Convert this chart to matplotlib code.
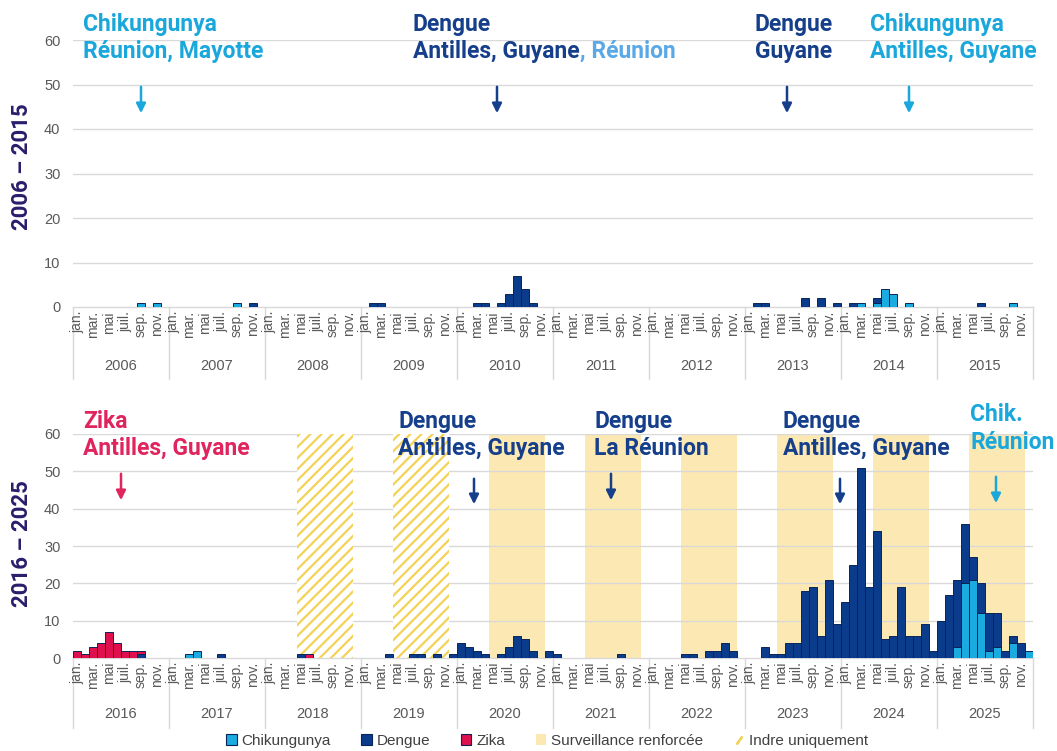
import matplotlib
matplotlib.use("Agg")
import matplotlib.pyplot as plt
import numpy as np
from matplotlib.patches import Patch
from matplotlib.lines import Line2D
from matplotlib.transforms import blended_transform_factory

plt.rcParams['hatch.linewidth'] = 1.6

W, H = 1057, 751
fig = plt.figure(figsize=(W / 100, H / 100), dpi=100)

# ---------------- data ----------------
years_top = [str(y) for y in range(2006, 2016)]
years_bottom = [str(y) for y in range(2016, 2026)]
month_labels = ["jan.", "", "mar.", "", "mai", "", "juil.", "", "sep.", "", "nov.", ""]

chik_top = [
    0, 0, 0, 0, 0, 0, 0, 0, 1, 0, 1, 0,   # 2006
    0, 0, 0, 0, 0, 0, 0, 0, 1, 0, 0, 0,   # 2007
    0, 0, 0, 0, 0, 0, 0, 0, 0, 0, 0, 0,   # 2008
    0, 0, 0, 0, 0, 0, 0, 0, 0, 0, 0, 0,   # 2009
    0, 0, 0, 0, 0, 0, 0, 0, 0, 0, 0, 0,   # 2010
    0, 0, 0, 0, 0, 0, 0, 0, 0, 0, 0, 0,   # 2011
    0, 0, 0, 0, 0, 0, 0, 0, 0, 0, 0, 0,   # 2012
    0, 0, 0, 0, 0, 0, 0, 0, 0, 0, 0, 0,   # 2013
    0, 0, 1, 0, 1, 4, 3, 0, 1, 0, 0, 0,   # 2014
    0, 0, 0, 0, 0, 0, 0, 0, 0, 1, 0, 0,   # 2015
]
dengue_top = [
    0, 0, 0, 0, 0, 0, 0, 0, 0, 0, 0, 0,   # 2006
    0, 0, 0, 0, 0, 0, 0, 0, 0, 0, 1, 0,   # 2007
    0, 0, 0, 0, 0, 0, 0, 0, 0, 0, 0, 0,   # 2008
    0, 1, 1, 0, 0, 0, 0, 0, 0, 0, 0, 0,   # 2009
    0, 0, 1, 1, 0, 1, 3, 7, 4, 1, 0, 0,   # 2010
    0, 0, 0, 0, 0, 0, 0, 0, 0, 0, 0, 0,   # 2011
    0, 0, 0, 0, 0, 0, 0, 0, 0, 0, 0, 0,   # 2012
    0, 1, 1, 0, 0, 0, 0, 2, 0, 2, 0, 1,   # 2013
    0, 1, 0, 0, 1, 0, 0, 0, 0, 0, 0, 0,   # 2014
    0, 0, 0, 0, 0, 1, 0, 0, 0, 0, 0, 0,   # 2015
]
zika_top = [0] * 120

chik_bottom = [
    0, 0, 0, 0, 0, 0, 0, 0, 0, 0, 0, 0,   # 2016
    0, 0, 1, 2, 0, 0, 0, 0, 0, 0, 0, 0,   # 2017
    0, 0, 0, 0, 0, 0, 0, 0, 0, 0, 0, 0,   # 2018
    0, 0, 0, 0, 0, 0, 0, 0, 0, 0, 0, 0,   # 2019
    0, 0, 0, 0, 0, 0, 0, 0, 0, 0, 0, 0,   # 2020
    0, 0, 0, 0, 0, 0, 0, 0, 0, 0, 0, 0,   # 2021
    0, 0, 0, 0, 0, 0, 0, 0, 0, 0, 0, 0,   # 2022
    0, 0, 0, 0, 0, 0, 0, 0, 0, 0, 0, 0,   # 2023
    0, 0, 0, 0, 0, 0, 0, 0, 0, 0, 0, 0,   # 2024
    0, 0, 3, 20, 21, 12, 2, 3, 0, 4, 0, 2,  # 2025
]
dengue_bottom = [
    0, 0, 0, 0, 0, 0, 0, 0, 1, 0, 0, 0,   # 2016
    0, 0, 0, 0, 0, 0, 1, 0, 0, 0, 0, 0,   # 2017
    0, 0, 0, 0, 1, 0, 0, 0, 0, 0, 0, 0,   # 2018
    0, 0, 0, 1, 0, 0, 1, 1, 0, 1, 0, 1,   # 2019
    4, 3, 2, 1, 0, 1, 3, 6, 5, 2, 0, 2,   # 2020
    1, 0, 0, 0, 0, 0, 0, 0, 1, 0, 0, 0,   # 2021
    0, 0, 0, 0, 1, 1, 0, 2, 2, 4, 2, 0,   # 2022
    0, 0, 3, 1, 1, 4, 4, 18, 19, 6, 21, 9,  # 2023
    15, 25, 51, 19, 34, 5, 6, 19, 6, 6, 9, 2,  # 2024
    10, 17, 18, 16, 6, 8, 10, 9, 2, 2, 4, 0,   # 2025
]
zika_bottom = [
    2, 1, 3, 4, 7, 4, 2, 2, 1, 0, 0, 0,   # 2016
    0, 0, 0, 0, 0, 0, 0, 0, 0, 0, 0, 0,   # 2017
    0, 0, 0, 0, 0, 1, 0, 0, 0, 0, 0, 0,   # 2018
] + [0] * 84

# surveillance periods
surveillance_years = ["2020", "2021", "2022", "2023", "2024", "2025"]
indre_years = ["2018", "2019"]
season_first_month, season_last_month = 4, 10   # mai .. nov.

# ---------------- style ----------------
C_CHIK = "#1AABE0"
C_DENG = "#0B3C8C"
C_ZIKA = "#E0104F"
C_EDGE = "#0A2456"
C_YEL = "#FCE8B2"
C_HATCH = "#F3D255"
C_GRID = "#D9D9D9"
C_TICK = "#595959"
C_TXT_DENG = "#153F8A"
C_TXT_CHIK = "#1AA7DB"
C_TXT_REU = "#5AA8E6"
C_TXT_ZIKA = "#E0245E"
C_YLAB = "#2B1D6B"
TICKFONT = "Liberation Sans"
ANNFONT = "Roboto"
ANNSIZE = 16.5


def fy(py):
    return 1 - py / H


def fx(px):
    return px / W


def draw_panel(ax, chik, dengue, zika, years, axis_px, mlab_px, ylab_px, sep_px):
    n = len(chik)
    x = np.arange(n)
    ax.set_xlim(-0.5, n - 0.5)
    ax.set_ylim(0, 60)
    for v in range(10, 61, 10):
        ax.axhline(v, color=C_GRID, lw=1.0, zorder=0.5)
    for i, yr in enumerate(years):
        if yr in surveillance_years:
            ax.axvspan(i * 12 + season_first_month - 0.5, i * 12 + season_last_month + 0.5,
                       facecolor=C_YEL, edgecolor="none", zorder=0)
        if yr in indre_years:
            ax.axvspan(i * 12 + season_first_month - 0.5, i * 12 + season_last_month + 0.5,
                       facecolor="white", edgecolor=C_HATCH, hatch="///", linewidth=0, zorder=1)
    base = np.zeros(n)
    for vals, col in [(chik, C_CHIK), (dengue, C_DENG), (zika, C_ZIKA)]:
        v = np.array(vals, dtype=float)
        m = v > 0
        ax.bar(x[m], v[m], bottom=base[m], width=1.0, color=col,
               edgecolor=C_EDGE, linewidth=0.7, zorder=3)
        base += v
    ax.set_yticks(range(0, 61, 10))
    ax.set_yticklabels([str(v) for v in range(0, 61, 10)], fontsize=10.5,
                       color=C_TICK, family=TICKFONT)
    ax.tick_params(axis="y", length=0, pad=9)
    ax.set_xticks([])
    for s in ["top", "right", "left"]:
        ax.spines[s].set_visible(False)
    ax.spines["bottom"].set_color(C_GRID)
    ax.spines["bottom"].set_linewidth(1.0)
    ax.patch.set_alpha(0)
    trans = blended_transform_factory(ax.transData, fig.transFigure)
    for i in range(n):
        lab = month_labels[i % 12]
        if lab:
            ax.text(i, fy(mlab_px), lab, rotation=90, ha="center", va="top",
                    transform=trans, fontsize=10, color=C_TICK, family=TICKFONT)
    for k, yr in enumerate(years):
        ax.text(k * 12 + 5.5, fy(ylab_px), yr, ha="center", va="center",
                transform=trans, fontsize=10.5, color=C_TICK, family=TICKFONT)
    for k in range(len(years) + 1):
        ax.plot([k * 12 - 0.5, k * 12 - 0.5], [fy(axis_px), fy(sep_px)],
                transform=trans, color=C_GRID, lw=1.0, clip_on=False, zorder=1)


ax1 = fig.add_axes([fx(73), fy(307), fx(960), 267 / H])
ax2 = fig.add_axes([fx(73), fy(658), fx(960), 224 / H])

draw_panel(ax1, chik_top, dengue_top, zika_top, years_top, 307, 311, 366, 379)
draw_panel(ax2, chik_bottom, dengue_bottom, zika_bottom, years_bottom, 658, 662, 714, 728)

# y axis period labels
fig.text(fx(22), fy(167), "2006 – 2015", rotation=90, ha="center", va="center",
         fontsize=16, fontweight="bold", color=C_YLAB, family=ANNFONT)
fig.text(fx(22), fy(544), "2016 – 2025", rotation=90, ha="center", va="center",
         fontsize=16, fontweight="bold", color=C_YLAB, family=ANNFONT)


def label(px, base1, base2, l1, l2, c1, c2=None):
    c2 = c2 or c1
    fig.text(fx(px), fy(base1), l1, ha="left", va="baseline", fontsize=ANNSIZE,
             fontweight="bold", color=c1, family=ANNFONT)
    return fig.text(fx(px), fy(base2), l2, ha="left", va="baseline", fontsize=ANNSIZE,
                    fontweight="bold", color=c2, family=ANNFONT)


def arrow(px, top, tip, col):
    fig.add_artist(matplotlib.patches.FancyArrowPatch(
        (fx(px), fy(top)), (fx(px), fy(tip)), transform=fig.transFigure,
        arrowstyle="-|>", mutation_scale=14, color=col, lw=1.8))


# top annotations
label(83, 31, 58, "Chikungunya", "Réunion, Mayotte", C_TXT_CHIK)
t = label(413, 31, 58, "Dengue", "Antilles, Guyane", C_TXT_DENG)
fig.canvas.draw()
bb = t.get_window_extent()
fig.text(bb.x1 / W, fy(58), ", Réunion", ha="left", va="baseline", fontsize=ANNSIZE,
         fontweight="bold", color=C_TXT_REU, family=ANNFONT)
label(755, 31, 58, "Dengue", "Guyane", C_TXT_DENG)
label(870, 31, 58, "Chikungunya", "Antilles, Guyane", C_TXT_CHIK)
arrow(141, 84, 116, C_TXT_CHIK)
arrow(497, 84, 116, C_TXT_DENG)
arrow(787, 84, 116, C_TXT_DENG)
arrow(909, 84, 116, C_TXT_CHIK)

# bottom annotations
label(83, 428, 455, "Zika", "Antilles, Guyane", C_TXT_ZIKA)
label(398, 428, 455, "Dengue", "Antilles, Guyane", C_TXT_DENG)
label(594, 428, 455, "Dengue", "La Réunion", C_TXT_DENG)
label(783, 428, 455, "Dengue", "Antilles, Guyane", C_TXT_DENG)
label(970, 421, 449, "Chik.", "Réunion", C_TXT_CHIK)
arrow(121, 471, 503, C_TXT_ZIKA)
arrow(474, 476, 507, C_TXT_DENG)
arrow(611, 471, 503, C_TXT_DENG)
arrow(840, 476, 507, C_TXT_DENG)
arrow(996, 474, 506, C_TXT_CHIK)

# legend
handles = [
    Patch(facecolor=C_CHIK, edgecolor=C_EDGE, linewidth=0.8, label="Chikungunya"),
    Patch(facecolor=C_DENG, edgecolor=C_EDGE, linewidth=0.8, label="Dengue"),
    Patch(facecolor=C_ZIKA, edgecolor=C_EDGE, linewidth=0.8, label="Zika"),
    Patch(facecolor=C_YEL, edgecolor="none", label="Surveillance renforcée"),
    Line2D([], [], linestyle="none", marker=(2, 2, -35), markersize=7,
           markeredgecolor=C_HATCH, markeredgewidth=1.6, label="Indre uniquement"),
]
fig.legend(handles=handles, loc="center", bbox_to_anchor=(fx(547), fy(741)), ncol=5,
           frameon=False, handlelength=0.7, handleheight=0.7,
           handletextpad=0.3, columnspacing=2.0, labelcolor="#404040",
           prop={"family": TICKFONT, "size": 11})

fig.savefig("out.png", dpi=100, facecolor="white")
